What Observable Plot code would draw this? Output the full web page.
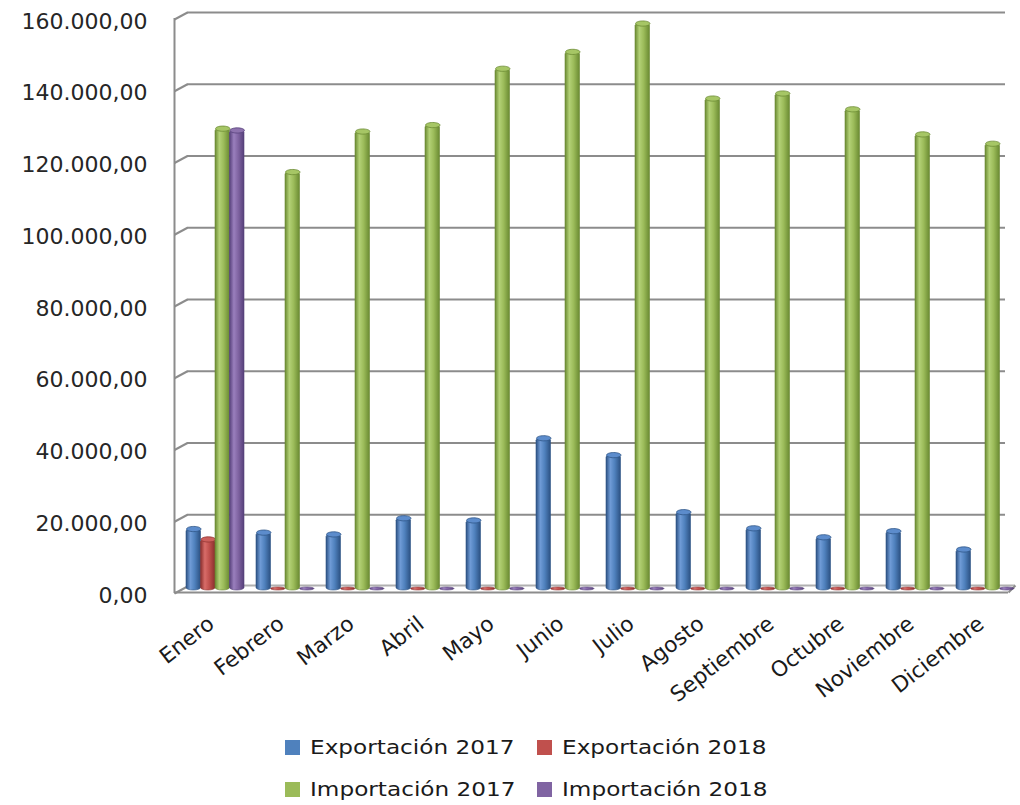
<!DOCTYPE html>
<html>
<head>
<meta charset="utf-8">
<script src="https://cdn.jsdelivr.net/npm/d3@7"></script>
<script src="https://cdn.jsdelivr.net/npm/@observablehq/plot@0.6"></script>
<style>
  html, body { margin: 0; padding: 0; background: #fff; }
  #wrap { position: relative; width: 1020px; height: 805px; font-family: "DejaVu Sans", sans-serif; }
  .li { position: absolute; height: 20px; display: flex; align-items: center; white-space: nowrap; }
  .sw { width: 15px; height: 15px; margin-right: 10px; }
  .lt { font-size: 19px; color: #1a1a1a; transform: scaleX(1.22); transform-origin: left center; }
</style>
</head>
<body>
<div id="wrap"></div>
<script>
const months = ["Enero","Febrero","Marzo","Abril","Mayo","Junio","Julio","Agosto","Septiembre","Octubre","Noviembre","Diciembre"];
const seriesNames = ["Exportación 2017","Exportación 2018","Importación 2017","Importación 2018"];
const export2017 = [16300, 15300, 14800, 19300, 18700, 41600, 36900, 21000, 16500, 14000, 15700, 10600];
const export2018 = [13400, 0, 0, 0, 0, 0, 0, 0, 0, 0, 0, 0];
const import2017 = [127900, 115800, 127100, 128900, 144600, 149300, 157200, 136300, 137700, 133300, 126300, 123700];
const import2018 = [127400, 0, 0, 0, 0, 0, 0, 0, 0, 0, 0, 0];
const yTicks = [0, 20000, 40000, 60000, 80000, 100000, 120000, 140000, 160000];

const colors = [
  {id: "gBlue",   base: "#4f81bd", dark: "#2c5182", light: "#6f9bd6", cap: "#5c8ccc", edge: "#2f5687"},
  {id: "gRed",    base: "#c0504d", dark: "#8a2f2d", light: "#d86c69", cap: "#cc5f5c", edge: "#8f3331"},
  {id: "gGreen",  base: "#9bbb59", dark: "#6a8a32", light: "#b3d176", cap: "#a6c665", edge: "#6b8a34"},
  {id: "gPurple", base: "#8064a2", dark: "#56407a", light: "#9a7fbd", cap: "#8d72ae", edge: "#56407a"}
];
const seriesValues = [export2017, export2018, import2017, import2018];

const fmt = d3.formatLocale({decimal: ",", thousands: ".", grouping: [3], currency: ["", ""]}).format(",.2f");

const capSymbol = {
  draw(ctx) {
    const a = 7.2, b = 2.6, k = 0.5523;
    ctx.moveTo(-a, 0);
    ctx.bezierCurveTo(-a, -b * k, -a * k, -b, 0, -b);
    ctx.bezierCurveTo(a * k, -b, a, -b * k, a, 0);
    ctx.bezierCurveTo(a, b * k, a * k, b, 0, b);
    ctx.bezierCurveTo(-a * k, b, -a, b * k, -a, 0);
    ctx.closePath();
  }
};
const slant = { draw(ctx) { ctx.moveTo(-6, 5); ctx.lineTo(7, -2); } };
const floorEnd = { draw(ctx) { ctx.moveTo(-12, 4); ctx.lineTo(-5, -3); } };

const gridColor = "#8c8c8c";

const barMarks = [];
seriesValues.forEach((vals, i) => {
  const data = months.map((m, j) => ({month: m, value: vals[j]}));
  const c = colors[i];
  barMarks.push(Plot.barY(data, {
    x: "month", y1: 0, y2: "value",
    fill: `url(#${c.id})`, stroke: c.edge, strokeWidth: 0.6,
    insetLeft: 6 + 14.5 * i, insetRight: 49.5 - 14.5 * i,
    insetBottom: -2, insetTop: -1,
    rx: 7, ry: 2.5
  }));
  barMarks.push(Plot.dot(data.filter(d => d.value > 0), {
    x: "month", y: "value", dx: -21.75 + 14.5 * i, dy: -1,
    symbol: capSymbol, fill: c.cap, stroke: c.edge, strokeWidth: 0.8
  }));
});

const chart = Plot.plot({
  width: 1020,
  height: 700,
  marginLeft: 180,
  marginRight: 0,
  marginTop: 14,
  marginBottom: 112,
  style: {fontFamily: "DejaVu Sans, sans-serif", background: "white", overflow: "visible"},
  x: {domain: months, padding: 0, axis: null},
  y: {domain: [0, 160000], axis: null},
  marks: [
    // back-wall gridlines
    Plot.ruleY(yTicks.filter(d => d > 0), {y: d => d, dy: -2, insetLeft: 7, insetRight: 15, stroke: gridColor, strokeWidth: 2}),
    // floor back edge
    Plot.ruleY([0], {y: d => d, dy: -3, insetLeft: 7, insetRight: 5, stroke: "#b0b0b0", strokeWidth: 2}),
    // floor front edge
    Plot.ruleY([0], {y: d => d, dy: 4, insetLeft: -6, insetRight: 12, stroke: gridColor, strokeWidth: 2}),
    Plot.dot([0], {y: d => d, frameAnchor: "right", symbol: floorEnd, fill: "none", stroke: gridColor, strokeWidth: 2}),
    // left wall front edge
    Plot.ruleX([months[0]], {x: d => d, y1: 0, y2: 160000, dx: -41, insetTop: 5, insetBottom: -4, stroke: gridColor, strokeWidth: 2}),
    // wall tick connectors
    Plot.dot(yTicks, {y: d => d, frameAnchor: "left", symbol: slant, fill: "none", stroke: gridColor, strokeWidth: 2}),
    ...barMarks,
    // y labels
    Plot.text(yTicks, {y: d => d, text: d => fmt(d), frameAnchor: "left", dx: -33, dy: 7, textAnchor: "end", fontSize: 22, fill: "#262626"}),
    // month labels
    Plot.text(months, {x: d => d, text: d => d, frameAnchor: "bottom", dy: 38, rotate: -38, textAnchor: "end", fontSize: 21.5, fill: "#1a1a1a"})
  ]
});

// gradients for cylinder shading
const defs = d3.select(chart).insert("defs", ":first-child");
colors.forEach(c => {
  const g = defs.append("linearGradient").attr("id", c.id).attr("x1", "0").attr("x2", "1").attr("y1", "0").attr("y2", "0");
  g.append("stop").attr("offset", "0%").attr("stop-color", c.dark);
  g.append("stop").attr("offset", "30%").attr("stop-color", c.light);
  g.append("stop").attr("offset", "60%").attr("stop-color", c.base);
  g.append("stop").attr("offset", "100%").attr("stop-color", c.dark);
});

const wrap = document.getElementById("wrap");
wrap.appendChild(chart);

const legendPos = [
  {left: 285, top: 737}, {left: 537, top: 737},
  {left: 285, top: 779}, {left: 537, top: 779}
];
seriesNames.forEach((name, i) => {
  const item = document.createElement("div");
  item.className = "li";
  item.style.left = legendPos[i].left + "px";
  item.style.top = legendPos[i].top + "px";
  const sw = document.createElement("div");
  sw.className = "sw";
  sw.style.background = colors[i].base;
  const t = document.createElement("span");
  t.className = "lt";
  t.textContent = name;
  item.appendChild(sw);
  item.appendChild(t);
  wrap.appendChild(item);
});
</script>
</body>
</html>
